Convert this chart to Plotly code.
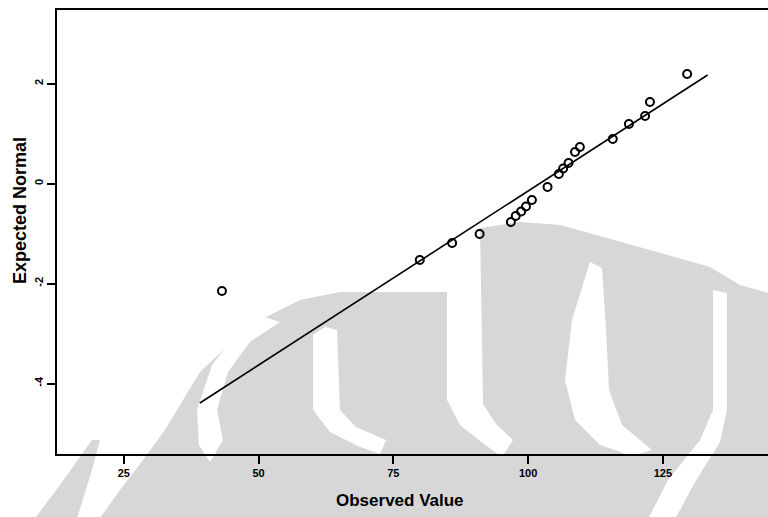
import plotly.graph_objects as go

# ---- data ----
observed = [43.2, 79.9, 85.9, 91.0, 96.8, 97.7, 98.7, 99.6, 100.7, 103.6,
            105.7, 106.5, 107.5, 108.7, 109.6, 115.7, 118.7, 121.7, 122.6, 129.5]
expected = [-2.15, -1.53, -1.19, -1.01, -0.77, -0.65, -0.56, -0.46, -0.33, -0.07,
            0.19, 0.30, 0.41, 0.63, 0.73, 0.89, 1.19, 1.35, 1.63, 2.19]
line_x = [39.1, 133.3]
line_y = [-4.39, 2.17]
x_ticks = [25, 50, 75, 100, 125]
y_ticks = [2, 0, -2, -4]

W, H = 768, 517
ML, MR, MT, MB = 57, 0, 10, 63
PW, PH = W - ML - MR, H - MT - MB


def px(X, Y):
    return (X - ML) / PW, (H - MB - Y) / PH


def path(pts, close=True):
    s = ""
    for i, (X, Y) in enumerate(pts):
        a, b = px(X, Y)
        s += ("M" if i == 0 else "L") + f"{a:.4f},{b:.4f} "
    return s + ("Z" if close else "")


GRAY = "#d7d7d7"
shapes = []
# watermark (background logo), pixel outlines
gray_polys = [
    [(95, 525), (120, 490), (143, 460), (165, 430), (180, 405), (200, 372),
     (250, 325), (300, 300), (340, 292), (447, 292), (460, 258), (480, 228),
     (520, 222), (560, 225), (600, 236), (650, 250), (710, 267), (740, 285),
     (768, 293), (768, 525)],
    [(30, 525), (60, 485), (92, 440), (100, 440), (92, 470), (75, 525)],
]
white_polys = [
    # central flame
    [(447, 292), (447, 400), (460, 425), (480, 441), (502, 457),
     (513, 440), (496, 424), (483, 404), (480, 226), (462, 240)],
    # left inner stripe
    [(313, 335), (313, 410), (330, 432), (358, 446), (380, 454),
     (386, 440), (356, 427), (340, 410), (337, 330), (325, 327)],
    # left outer band
    [(262, 316), (236, 334), (212, 365), (197, 410), (199, 445), (210, 462),
     (223, 440), (217, 410), (228, 372), (250, 342), (280, 322)],
    # right-centre crescent
    [(590, 262), (572, 320), (565, 380), (575, 420), (600, 445), (632, 456),
     (652, 450), (622, 425), (609, 390), (606, 330), (602, 268)],
    # right outer band
    [(713, 290), (713, 410), (700, 440), (668, 480), (645, 525),
     (672, 525), (695, 482), (720, 442), (727, 410), (727, 293)],
]
for gp in gray_polys:
    shapes.append(dict(type="path", path=path(gp), xref="paper", yref="paper",
                       fillcolor=GRAY, line=dict(width=0), layer="below"))
for wp in white_polys:
    shapes.append(dict(type="path", path=path(wp), xref="paper", yref="paper",
                       fillcolor="white", line=dict(width=0), layer="below"))

fig = go.Figure()
fig.add_trace(go.Scatter(x=line_x, y=line_y, mode="lines",
                         line=dict(color="black", width=1.6), showlegend=False))
fig.add_trace(go.Scatter(x=observed, y=expected, mode="markers",
                         marker=dict(symbol="circle-open", size=8, color="black",
                                     line=dict(width=2, color="black")),
                         showlegend=False))

font_tick = dict(family="Liberation Sans, Arial", size=11, color="black", weight="bold")
fig.update_layout(
    width=W, height=H,
    margin=dict(l=ML, r=MR, t=MT, b=MB, autoexpand=False),
    paper_bgcolor="white", plot_bgcolor="rgba(0,0,0,0)",
    shapes=shapes,
    xaxis=dict(range=[12.6, 144.5], tickvals=x_ticks, ticktext=[str(v) for v in x_ticks],
               ticks="outside", ticklen=8, tickwidth=1.5, tickcolor="black",
               showline=True, linecolor="black", linewidth=2, mirror=True,
               showgrid=False, zeroline=False, tickfont=font_tick, automargin=False),
    yaxis=dict(range=[-5.41, 3.47], tickvals=y_ticks, ticktext=[str(v) for v in y_ticks],
               ticks="outside", ticklen=8, tickwidth=1.5, tickcolor="black",
               showline=True, linecolor="black", linewidth=2, mirror=False,
               showgrid=False, zeroline=False, tickangle=-90, tickfont=font_tick,
               automargin=False),
    annotations=[
        dict(text="Observed Value", x=px(400, 0)[0], y=px(0, 501)[1], xref="paper", yref="paper",
             showarrow=False, xanchor="center", yanchor="middle",
             font=dict(family="Liberation Sans, Arial", size=17, color="black", weight="bold")),
        dict(text="Expected Normal", x=px(20, 0)[0], y=px(0, 211)[1], xref="paper", yref="paper",
             showarrow=False, xanchor="center", yanchor="middle", textangle=-90,
             font=dict(family="Liberation Sans, Arial", size=18, color="black", weight="bold")),
    ],
)
fig.write_html("out.html", config={"displayModeBar": False},
               post_script="document.body.style.margin='0px';document.body.style.overflow='hidden';")
